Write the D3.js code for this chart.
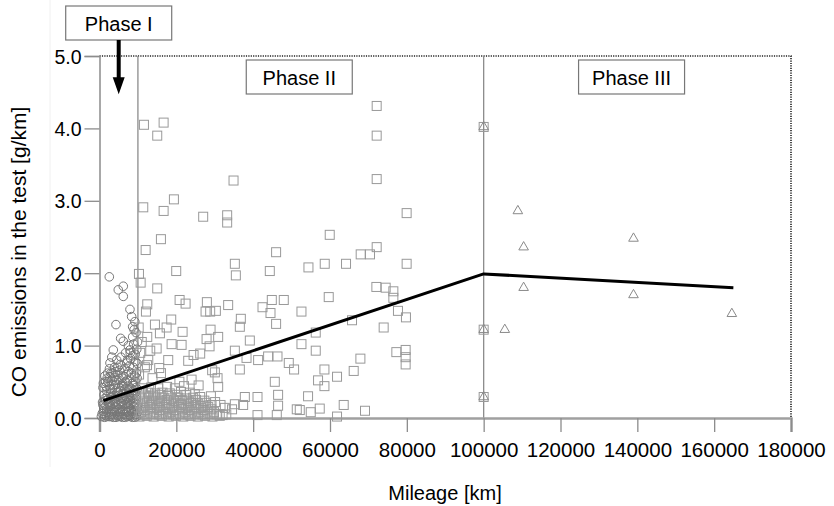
<!DOCTYPE html>
<html>
<head>
<meta charset="utf-8">
<script src="https://cdn.jsdelivr.net/npm/d3@7"></script>
<style>
  body { margin: 0; background: #fff; }
  svg { display: block; font-family: 'Liberation Sans', Arial, sans-serif; }
</style>
</head>
<body>
<svg width="834" height="506"></svg>
<script>
// [mileage km, CO g/km]
const phaseOne = [
  [2550, 1.95], [4890, 1.77], [6190, 1.82], [6190, 1.68], [7930, 1.50], [8370, 1.40],
  [4290, 1.29], [5510, 1.10], [6190, 1.06], [3590, 0.94], [8630, 1.26], [8630, 1.12],
  [7930, 0.94], [4470, 0.80], [2730, 0.76], [7070, 0.76], [2730, 0.57],
  [9200, 1.33], [9500, 1.18], [8900, 1.02], [9300, 0.88], [6800, 0.90], [5600, 0.84],
  [8100, 0.82], [3900, 0.70], [5200, 0.66], [6500, 0.68], [7600, 0.64], [8800, 0.70],
  [9600, 0.62], [2100, 0.62], [4600, 0.60], [1600, 0.50], [3300, 0.52], [5900, 0.55],
  [7200, 0.52], [8400, 0.56], [9400, 0.50],
  [900, 0.42], [1800, 0.38], [2600, 0.44], [3400, 0.40], [4200, 0.46], [5000, 0.42],
  [5800, 0.45], [6600, 0.40], [7400, 0.44], [8200, 0.41], [9000, 0.45], [9800, 0.40],
  [1200, 0.32], [2000, 0.30], [2900, 0.34], [3700, 0.31], [4500, 0.35], [5300, 0.32],
  [6100, 0.34], [6900, 0.30], [7700, 0.33], [8500, 0.31], [9300, 0.35],
  [800, 0.22], [1600, 0.24], [2400, 0.21], [3200, 0.25], [4000, 0.22], [4800, 0.26],
  [5600, 0.23], [6400, 0.25], [7200, 0.21], [8000, 0.24], [8800, 0.22], [9600, 0.26],
  [1100, 0.14], [1900, 0.12], [2700, 0.16], [3500, 0.13], [4300, 0.15], [5100, 0.12],
  [5900, 0.16], [6700, 0.13], [7500, 0.15], [8300, 0.12], [9100, 0.16], [9900, 0.14],
  [700, 0.06], [1500, 0.04], [2300, 0.07], [3100, 0.05], [3900, 0.08], [4700, 0.04],
  [5500, 0.07], [6300, 0.05], [7100, 0.08], [7900, 0.04], [8700, 0.07], [9500, 0.05],
  [1300, 0.01], [2500, 0.02], [3600, 0.01], [4900, 0.02], [6000, 0.01], [7300, 0.02],
  [8600, 0.01], [9700, 0.02],
  [1400, 0.58], [2200, 0.50], [3000, 0.62], [3800, 0.56], [4400, 0.52], [5400, 0.74],
  [6200, 0.58], [7000, 0.60], [7800, 0.72], [8600, 0.48], [9200, 0.58], [9900, 0.75],
  [6000, 0.48], [4100, 0.64], [2600, 0.68], [8000, 0.90], [9700, 0.95], [7500, 1.00],
  [9000, 1.22], [9900, 1.05], [3200, 0.84],
  [1000, 0.48], [1700, 0.44], [2800, 0.40], [3600, 0.46], [4800, 0.36], [5400, 0.38],
  [6300, 0.44], [7000, 0.36], [7800, 0.39], [8900, 0.38], [9500, 0.42],
  [1400, 0.27], [2200, 0.26], [3000, 0.29], [3900, 0.27], [4700, 0.30], [5500, 0.28],
  [6200, 0.29], [7100, 0.27], [7900, 0.28], [8700, 0.27], [9500, 0.30],
  [900, 0.18], [1700, 0.17], [2600, 0.19], [3400, 0.18], [4200, 0.19], [5000, 0.18],
  [5800, 0.20], [6600, 0.18], [7400, 0.19], [8200, 0.18], [9000, 0.20], [9800, 0.19],
  [1000, 0.09], [1800, 0.08], [2700, 0.10], [3500, 0.09], [4300, 0.10], [5200, 0.09],
  [6000, 0.10], [6800, 0.09], [7600, 0.10], [8400, 0.09], [9200, 0.10], [10000, 0.09],
  [500, 0.02], [1900, 0.02], [3000, 0.02], [4300, 0.01], [5500, 0.02], [6700, 0.01],
  [8000, 0.02], [9200, 0.01],
  [2000, 0.55], [5000, 0.52], [6800, 0.50], [8300, 0.62], [9800, 0.55], [4800, 0.70],
  [3500, 0.62], [7300, 0.80], [9400, 0.78], [8600, 0.86]
]

const phaseTwo = [
  [11570, 4.05], [16690, 4.08], [15030, 3.90], [34890, 3.28], [19370, 3.02], [11390, 2.91],
  [16690, 2.86], [26990, 2.78], [33230, 2.80], [33230, 2.70], [15990, 2.47], [12010, 2.32],
  [45970, 2.29], [72150, 4.31], [72150, 3.90], [72150, 3.30], [79950, 2.83], [59930, 2.53],
  [72150, 2.36], [67990, 2.26], [70410, 2.26],
  [35230, 2.13], [19970, 2.03], [35490, 1.97], [44330, 2.03], [54390, 2.08], [10270, 1.99],
  [10710, 1.87], [15030, 1.79], [20850, 1.63], [22410, 1.58], [27950, 1.60], [27610, 1.47],
  [28810, 1.47], [30290, 1.48], [33490, 1.56], [12430, 1.57], [12090, 1.47], [42430, 1.53],
  [44850, 1.63], [44510, 1.45], [47970, 1.63], [52570, 1.47], [18670, 1.36], [36790, 1.37],
  [36530, 1.26], [45970, 1.30], [14430, 1.29], [17470, 1.25], [21630, 1.19], [28910, 1.22],
  [30890, 1.12], [27870, 1.09], [39130, 1.07],
  [58630, 2.13], [64170, 2.13], [79950, 2.13], [72070, 1.81], [74490, 1.80], [76490, 1.75],
  [76490, 1.66], [59670, 1.67], [77690, 1.48], [79770, 1.39], [65730, 1.35], [73970, 1.25],
  [56290, 1.18],
  [18770, 1.02], [21370, 1.01], [28650, 0.99], [35230, 0.93], [52570, 1.02], [43890, 0.85],
  [46330, 0.85], [41290, 0.80], [38270, 0.83], [49270, 0.76], [50650, 0.67], [36530, 0.67],
  [26210, 0.89], [24490, 0.87], [17890, 0.80], [13210, 0.93], [12350, 0.73], [15550, 0.69],
  [23090, 0.79], [30030, 0.63], [29330, 0.66], [23970, 0.53], [30730, 0.55], [30890, 0.43],
  [19630, 0.41], [45630, 0.50], [46490, 0.32], [54290, 0.30], [37830, 0.29], [41130, 0.29],
  [35230, 0.19], [37390, 0.18], [32630, 0.14], [46490, 0.17], [51350, 0.12], [46150, 0.04],
  [41130, 0.04], [32030, 0.04], [54990, 0.08],
  [56290, 0.93], [77270, 0.91], [79690, 0.94], [79690, 0.84], [79690, 0.74], [67910, 0.82],
  [66170, 0.65], [58550, 0.67], [61830, 0.57], [56890, 0.52], [58550, 0.44], [63570, 0.18],
  [69110, 0.10], [57330, 0.13], [52130, 0.11], [61830, 0.02],
  [12430, 1.12], [15730, 1.17], [14870, 0.96], [12690, 0.80],
  [10400, 0.02], [12300, 0.03], [14100, 0.02], [16200, 0.03], [18000, 0.02], [19900, 0.03],
  [21800, 0.02], [23700, 0.03], [25600, 0.02], [27500, 0.03], [29400, 0.02], [31300, 0.03],
  [10800, 0.08], [12700, 0.09], [14600, 0.08], [16500, 0.09], [18400, 0.08], [20300, 0.09],
  [22200, 0.08], [24100, 0.09], [26000, 0.08], [27900, 0.09], [29800, 0.08],
  [11200, 0.14], [13100, 0.15], [15000, 0.14], [16900, 0.15], [18800, 0.14], [20700, 0.15],
  [22600, 0.14], [24500, 0.15], [26400, 0.14], [28300, 0.15],
  [10500, 0.20], [12400, 0.21], [14300, 0.20], [16200, 0.21], [18100, 0.20], [20000, 0.21],
  [21900, 0.20], [23800, 0.21], [25700, 0.20], [27600, 0.21], [30100, 0.22],
  [11000, 0.27], [12900, 0.28], [14800, 0.27], [16700, 0.28], [18600, 0.27], [20500, 0.28],
  [22400, 0.27], [24300, 0.28], [26200, 0.29],
  [10700, 0.34], [12600, 0.35], [14500, 0.34], [16400, 0.35], [18300, 0.34], [21200, 0.36],
  [23500, 0.35], [11300, 0.41], [13400, 0.42], [15300, 0.41], [17600, 0.43], [22000, 0.44],
  [33000, 0.05], [34500, 0.12], [29000, 0.30], [31500, 0.18], [13800, 0.55], [16000, 0.62],
  [11800, 0.70], [20800, 0.50], [25800, 0.45], [10300, 0.60], [10600, 0.90], [10200, 1.25],
  [11000, 1.05],
  [11500, 0.05], [13500, 0.06], [15500, 0.05], [17300, 0.06], [19200, 0.05], [21000, 0.06],
  [23000, 0.05], [24800, 0.06], [26800, 0.05], [28700, 0.06], [30500, 0.05],
  [11800, 0.11], [13800, 0.12], [15700, 0.11], [17700, 0.12], [19500, 0.11], [21500, 0.12],
  [23400, 0.11], [25200, 0.12], [27100, 0.11], [29100, 0.12],
  [11500, 0.17], [13500, 0.18], [15400, 0.17], [17400, 0.18], [19300, 0.17], [21200, 0.18],
  [23100, 0.17], [25000, 0.18], [27000, 0.17], [28900, 0.18],
  [11700, 0.24], [13700, 0.24], [15600, 0.24], [17500, 0.25], [19400, 0.24], [21400, 0.25],
  [23200, 0.24], [25100, 0.25], [27300, 0.24],
  [11900, 0.31], [13900, 0.31], [15800, 0.32], [17800, 0.31], [19800, 0.32], [22600, 0.32],
  [24800, 0.33],
  [100000, 4.02], [100000, 1.22], [100000, 0.29]
]

const phaseThree = [
  [100000, 4.02], [100000, 1.22], [100000, 0.29], [105500, 1.22], [108900, 2.86],
  [110400, 2.36], [110400, 1.80], [139000, 2.48], [139000, 1.70], [164600, 1.44]
]

const trendKm = [1000, 100000, 165000]
const trendCO = [0.24, 1.99, 1.80]

const xTicks = [0, 20000, 40000, 60000, 80000, 100000, 120000, 140000, 160000, 180000]
const yTicks = [0, 1, 2, 3, 4, 5]
const phaseBounds = [10000, 100000]
const phaseLabels = ['Phase I', 'Phase II', 'Phase III']
const phaseLabelKm = [5000, 52000, 138500]

const svg = d3.select('svg')
const plotLeft = 99.5, plotRight = 791, plotTop = 56, plotBottom = 418

const x = d3.scaleLinear().domain([0, 180000]).range([plotLeft, plotRight])
const y = d3.scaleLinear().domain([0, 5]).range([plotBottom, plotTop])

const grey = '#8c8c8c'

// faint border of the original figure
svg.append('line')
  .attr('x1', 50).attr('x2', 50).attr('y1', 0).attr('y2', 467)
  .attr('stroke', '#f0f0f0')

// frame: dotted top and right
svg.append('path')
  .attr('d', `M${plotLeft},${plotTop}H${plotRight}V${plotBottom}`)
  .attr('fill', 'none')
  .attr('stroke', '#222')
  .attr('stroke-width', 1.6)
  .attr('stroke-dasharray', '1.2,1.2')

// phase boundaries
svg.selectAll('.bound')
  .data(phaseBounds)
  .join('line')
  .attr('class', 'bound')
  .attr('x1', d => x(d)).attr('x2', d => x(d))
  .attr('y1', plotTop).attr('y2', plotBottom)
  .attr('stroke', grey)
  .attr('stroke-width', 1.3)

// axes
const xAxis = svg.append('g')
  .attr('transform', `translate(0,${plotBottom})`)
  .call(d3.axisBottom(x).tickValues(xTicks).tickFormat(d3.format('d')).tickSize(14).tickPadding(10))
xAxis.select('.domain').attr('stroke', '#a0a0a0').attr('stroke-width', 2.5)
xAxis.selectAll('.tick line').attr('stroke', grey).attr('stroke-width', 1.3)
xAxis.selectAll('.tick text')
  .attr('fill', '#000')
  .style('font-size', '20.5px')
  .style('font-family', "'Liberation Sans', Arial, sans-serif")

const yAxis = svg.append('g')
  .attr('transform', `translate(${plotLeft},0)`)
  .call(d3.axisLeft(y).tickValues(yTicks).tickFormat(d3.format('.1f')).tickSize(15).tickPadding(3))
yAxis.select('.domain').attr('stroke', grey).attr('stroke-width', 1.5)
yAxis.selectAll('.tick line').attr('stroke', grey).attr('stroke-width', 1.3)
yAxis.selectAll('.tick text')
  .attr('fill', '#000')
  .attr('dy', '0.36em')
  .style('font-size', '19.5px')
  .style('font-family', "'Liberation Sans', Arial, sans-serif")

// scatter
const marks = svg.append('g').attr('fill', 'none').attr('stroke-width', 1)

marks.selectAll('.p1')
  .data(phaseOne)
  .join('circle')
  .attr('class', 'p1')
  .attr('cx', d => x(d[0]))
  .attr('cy', d => y(d[1]))
  .attr('r', 4.3)
  .attr('stroke', '#777')

marks.selectAll('.p2')
  .data(phaseTwo)
  .join('rect')
  .attr('class', 'p2')
  .attr('x', d => x(d[0]) - 4.5)
  .attr('y', d => y(d[1]) - 4.5)
  .attr('width', 9)
  .attr('height', 9)
  .attr('stroke', '#999')

const tri = d3.symbol().type(d3.symbolTriangle).size(40)
marks.selectAll('.p3')
  .data(phaseThree)
  .join('path')
  .attr('class', 'p3')
  .attr('transform', d => `translate(${x(d[0])},${y(d[1])})`)
  .attr('d', tri)
  .attr('stroke', '#8a8a8a')

// trend
const line = d3.line()
  .x(i => x(trendKm[i]))
  .y(i => y(trendCO[i]))

svg.append('path')
  .datum(d3.range(trendKm.length))
  .attr('fill', 'none')
  .attr('stroke', '#000')
  .attr('stroke-width', 3)
  .attr('stroke-linejoin', 'round')
  .attr('d', line)

// phase labels
const boxW = 106, boxH = 34
const boxTop = [6, plotTop + 4, plotTop + 4]

const labels = svg.selectAll('.phase')
  .data(phaseLabels)
  .join('g')
  .attr('class', 'phase')
  .attr('transform', (d, i) => `translate(${x(phaseLabelKm[i])},${boxTop[i]})`)

labels.append('rect')
  .attr('x', -boxW / 2)
  .attr('width', boxW)
  .attr('height', boxH)
  .attr('fill', '#fff')
  .attr('stroke', '#777')
  .attr('stroke-width', 1.2)

labels.append('text')
  .attr('y', 24.5)
  .attr('text-anchor', 'middle')
  .attr('fill', '#000')
  .style('font-size', '20px')
  .text(d => d)

// arrow from Phase I box
const ax = x(phaseLabelKm[0])
const tipY = y(4.47)
svg.append('line')
  .attr('x1', ax).attr('x2', ax)
  .attr('y1', boxTop[0] + boxH).attr('y2', tipY - 12)
  .attr('stroke', '#000')
  .attr('stroke-width', 4)
svg.append('path')
  .attr('d', `M${ax - 6},${tipY - 17}L${ax + 6},${tipY - 17}L${ax},${tipY}Z`)
  .attr('fill', '#000')

// axis titles
svg.append('text')
  .attr('x', 445)
  .attr('y', 500)
  .attr('text-anchor', 'middle')
  .attr('fill', '#000')
  .style('font-size', '20px')
  .text('Mileage [km]')

svg.append('text')
  .attr('transform', 'translate(25.5,252) rotate(-90)')
  .attr('text-anchor', 'middle')
  .attr('fill', '#000')
  .style('font-size', '21px')
  .text('CO emissions in the test [g/km]')
</script>
</body>
</html>
